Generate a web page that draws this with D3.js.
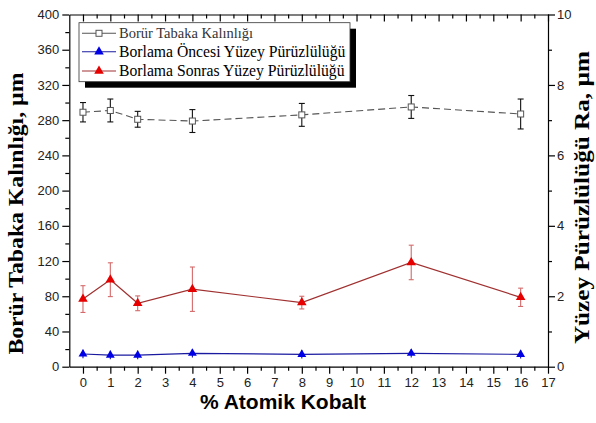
<!DOCTYPE html>
<html>
<head>
<meta charset="utf-8">
<script src="https://cdn.jsdelivr.net/npm/d3@7/dist/d3.min.js"></script>
<style>
  body { margin: 0; background: #fff; }
  svg { display: block; }
  .axis text { font-family: "Liberation Sans", Arial, sans-serif; font-size: 13px; fill: #222; }
  .axis path, .axis line { stroke: #000; stroke-width: 1.2; }
</style>
</head>
<body>
<div id="chart"></div>
<script>
// veriler
const kobalt = [0, 1, 2, 4, 8, 12, 16];
const kalinlik = [289, 291, 281, 279, 286, 295, 287];
const kalinlikHata = [11, 13, 9, 13, 13, 13, 17];
const oncesi = [0.36, 0.33, 0.33, 0.38, 0.35, 0.38, 0.35];
const oncesiHata = [0.12, 0.12, 0.12, 0.12, 0.12, 0.12, 0.12];
const sonrasi = [1.92, 2.47, 1.80, 2.20, 1.82, 2.96, 1.97];
const sonrasiHata = [0.38, 0.48, 0.21, 0.63, 0.18, 0.49, 0.26];

const xTicks = d3.range(0, 18);
const xMinor = d3.range(0.5, 17, 1);
const solTicks = d3.range(0, 401, 40);
const solMinor = d3.range(20, 400, 40);
const sagTicks = d3.range(0, 11, 2);
const sagMinor = d3.range(1, 10, 2);

const legendLabels = [
    "Borür Tabaka Kalınlığı",
    "Borlama Öncesi Yüzey Pürüzlülüğü",
    "Borlama Sonras Yüzey Pürüzlülüğü"
];

function draw() {
    let width = 596;
    let height = 423;
    let left = 69.3, right = 548, top = 14.5, bottom = 366.7;

    let svg = d3.select("#chart").append("svg")
        .attr("width", width)
        .attr("height", height);

    let x = d3.scaleLinear().domain([-0.5, 17]).range([left, right]);
    let yL = d3.scaleLinear().domain([0, 400]).range([bottom, top]);
    let yR = d3.scaleLinear().domain([0, 10]).range([bottom, top]);

    // eksenler
    function addAxis(axis, tx, ty, minor) {
        let g = svg.append("g").attr("class", "axis")
            .attr("transform", "translate(" + tx + "," + ty + ")")
            .call(axis);
        if (minor) g.select(".domain").remove();
        return g;
    }

    addAxis(d3.axisBottom(x).tickValues(xTicks).tickSize(7).tickPadding(4).tickSizeOuter(0), 0, bottom);
    addAxis(d3.axisBottom(x).tickValues(xMinor).tickSize(4).tickFormat(""), 0, bottom, true);
    addAxis(d3.axisTop(x).tickValues(xTicks).tickSize(-7).tickFormat("").tickSizeOuter(0), 0, top);
    addAxis(d3.axisTop(x).tickValues(xMinor).tickSize(-4).tickFormat(""), 0, top, true);
    addAxis(d3.axisLeft(yL).tickValues(solTicks).tickSize(7).tickPadding(3).tickSizeOuter(0), left, 0);
    addAxis(d3.axisLeft(yL).tickValues(solMinor).tickSize(4).tickFormat(""), left, 0, true);
    addAxis(d3.axisRight(yR).tickValues(sagTicks).tickSize(7).tickPadding(2).tickSizeOuter(0), right, 0);
    addAxis(d3.axisRight(yR).tickValues(sagMinor).tickSize(4).tickFormat(""), right, 0, true);

    // eksen başlıkları
    svg.append("text")
        .attr("transform", "translate(23," + ((top + bottom) / 2 + 23) + ") rotate(-90) scale(1.13,1)")
        .attr("text-anchor", "middle")
        .style("font-family", "'Liberation Serif', 'Times New Roman', serif")
        .style("font-weight", "bold")
        .style("font-size", "21px")
        .text("Borür Tabaka Kalınlığı, µm");

    svg.append("text")
        .attr("transform", "translate(589," + ((top + bottom) / 2 + 7) + ") rotate(-90) scale(1.2,1)")
        .attr("text-anchor", "middle")
        .style("font-family", "'Liberation Serif', 'Times New Roman', serif")
        .style("font-weight", "bold")
        .style("font-size", "21px")
        .text("Yüzey Pürüzlülüğü Ra, µm");

    svg.append("text")
        .attr("x", 283)
        .attr("y", 409)
        .attr("text-anchor", "middle")
        .style("font-family", "'Liberation Sans', Arial, sans-serif")
        .style("font-weight", "bold")
        .style("font-size", "21px")
        .text("% Atomik Kobalt");

    // seriler
    function errorBars(vals, errs, y, color, cap) {
        let g = svg.append("g").attr("stroke", color).attr("stroke-width", 1.1);
        kobalt.forEach(function (k, i) {
            let cx = x(k), y1 = y(vals[i] + errs[i]), y2 = y(vals[i] - errs[i]);
            g.append("line").attr("x1", cx).attr("x2", cx).attr("y1", y1).attr("y2", y2);
            if (cap > 0) {
                g.append("line").attr("x1", cx - cap).attr("x2", cx + cap).attr("y1", y1).attr("y2", y1);
                g.append("line").attr("x1", cx - cap).attr("x2", cx + cap).attr("y1", y2).attr("y2", y2);
            }
        });
    }

    let lineL = d3.line().x(function (d, i) { return x(kobalt[i]); }).y(function (d) { return yL(d); });
    let lineR = d3.line().x(function (d, i) { return x(kobalt[i]); }).y(function (d) { return yR(d); });

    // borür tabakası
    svg.append("path")
        .attr("d", lineL(kalinlik))
        .attr("fill", "none")
        .attr("stroke", "#555")
        .attr("stroke-width", 1.1)
        .attr("stroke-dasharray", "7,4");
    errorBars(kalinlik, kalinlikHata, yL, "#111", 3);
    svg.append("g").selectAll("rect")
        .data(kalinlik)
        .enter()
        .append("rect")
        .attr("x", function (d, i) { return x(kobalt[i]) - 3; })
        .attr("y", function (d) { return yL(d) - 3; })
        .attr("width", 6)
        .attr("height", 6)
        .attr("fill", "#fff")
        .attr("stroke", "#555")
        .attr("stroke-width", 1);

    // borlama öncesi
    errorBars(oncesi, oncesiHata, yR, "#1a1aa0", 0);
    svg.append("path")
        .attr("d", lineR(oncesi))
        .attr("fill", "none")
        .attr("stroke", "#1a1aa0")
        .attr("stroke-width", 1.2);
    svg.append("g").selectAll("path")
        .data(oncesi)
        .enter()
        .append("path")
        .attr("d", d3.symbol().type(d3.symbolTriangle).size(34))
        .attr("transform", function (d, i) { return "translate(" + x(kobalt[i]) + "," + yR(d) + ")"; })
        .attr("fill", "#0000e6");

    // borlama sonrası
    errorBars(sonrasi, sonrasiHata, yR, "#d46a6a", 2.5);
    svg.append("path")
        .attr("d", lineR(sonrasi))
        .attr("fill", "none")
        .attr("stroke", "#a03030")
        .attr("stroke-width", 1.2);
    svg.append("g").selectAll("path")
        .data(sonrasi)
        .enter()
        .append("path")
        .attr("d", d3.symbol().type(d3.symbolTriangle).size(40))
        .attr("transform", function (d, i) { return "translate(" + x(kobalt[i]) + "," + yR(d) + ")"; })
        .attr("fill", "#e60000");

    // lejant
    let lg = svg.append("g");
    lg.append("rect").attr("x", 85).attr("y", 28.7).attr("width", 271).attr("height", 59).attr("fill", "#000");
    lg.append("rect").attr("x", 79).attr("y", 22.7).attr("width", 271).attr("height", 59)
        .attr("fill", "#fff").attr("stroke", "#333").attr("stroke-width", 0.8);

    let lineColors = ["#555", "#1a1aa0", "#a03030"];
    let markColors = [null, "#0000e6", "#e60000"];
    let rowY = [33.3, 51.7, 71];
    legendLabels.forEach(function (lbl, i) {
        lg.append("line")
            .attr("x1", 82).attr("x2", 116).attr("y1", rowY[i]).attr("y2", rowY[i])
            .attr("stroke", lineColors[i]).attr("stroke-width", 1.1);
        if (i === 0) {
            lg.append("rect").attr("x", 96).attr("y", rowY[i] - 3).attr("width", 6).attr("height", 6)
                .attr("fill", "#fff").attr("stroke", "#555");
        } else {
            lg.append("path")
                .attr("d", d3.symbol().type(d3.symbolTriangle).size(40))
                .attr("transform", "translate(99," + rowY[i] + ")")
                .attr("fill", markColors[i]);
        }
        lg.append("text")
            .attr("x", 119)
            .attr("y", rowY[i] + 5)
            .style("font-family", "'Liberation Serif', 'Times New Roman', serif")
            .style("font-size", i === 0 ? "14.5px" : "15.7px")
            .style("fill", i === 0 ? "#333" : "#000")
            .text(lbl);
    });
}

draw();
</script>
</body>
</html>
